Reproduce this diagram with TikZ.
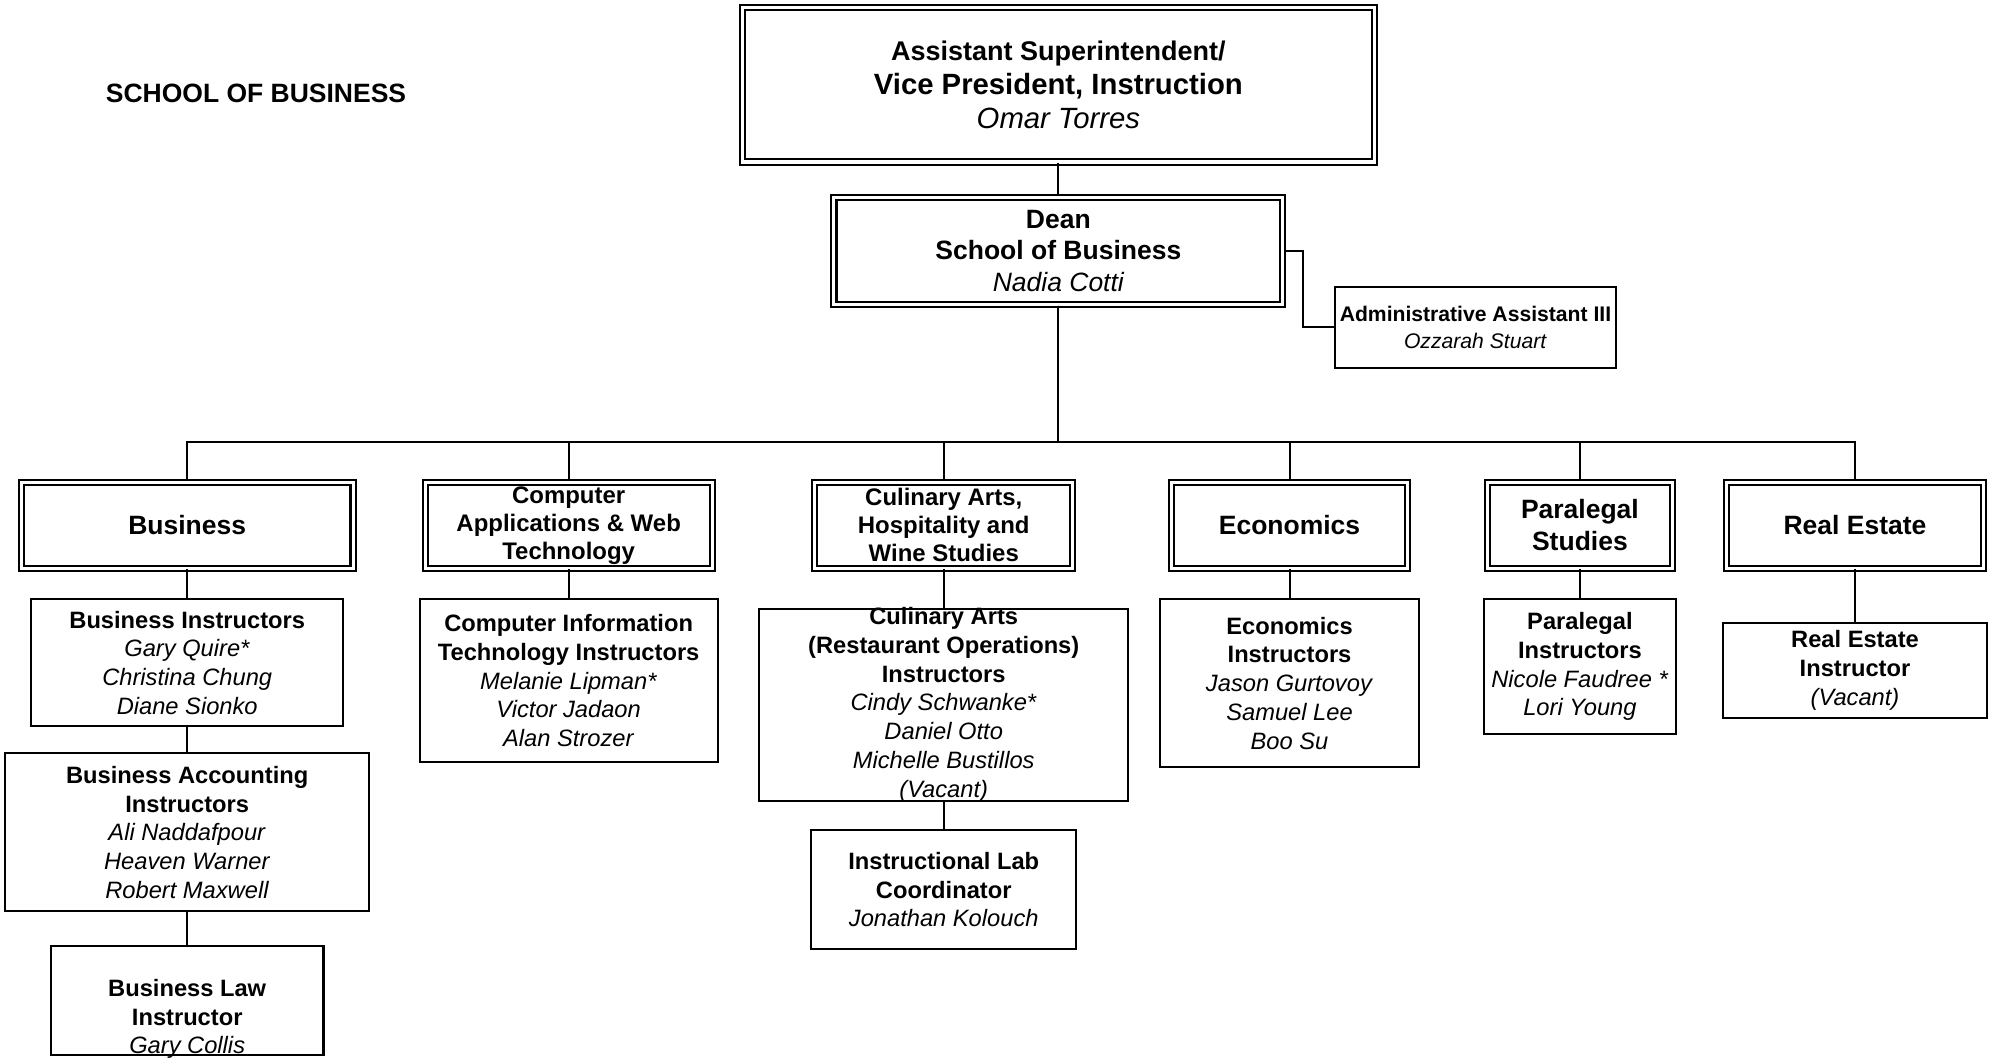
\documentclass[tikz,border=0pt]{standalone}
\usepackage{fontspec}
\setmainfont{Liberation Sans}
\usetikzlibrary{positioning}
\tikzstyle{unit} = [rectangle, draw=black, double, double distance=1.2pt, line width=0.8pt, align=center, inner sep=0pt, minimum height=33.7pt, font=\bfseries\fontsize{10.4}{12.5}\selectfont]
\tikzstyle{unitsmall} = [unit, font=\bfseries\fontsize{9.4}{11}\selectfont]
\tikzstyle{staff} = [rectangle, draw=black, line width=0.8pt, align=center, inner sep=0pt, font=\fontsize{9.3}{11.3}\selectfont]
\tikzstyle{link} = [line width=0.8pt]
\begin{document}
\begin{tikzpicture}[x=0.5pt, y=-0.5pt]
\useasboundingbox (0,0) rectangle (1568,833);

\node (title) [font=\bfseries\fontsize{10.4}{12.5}\selectfont] at (201,73) {SCHOOL OF BUSINESS};

% Top
\node (vp) [unit, minimum width=248.2pt, minimum height=60.7pt, font=\fontsize{11.5}{13.25}\selectfont] at (831,66.5) {{\fontsize{10.6}{13.25}\selectfont\bfseries Assistant Superintendent/}\\\textbf{Vice President, Instruction}\\\textit{Omar Torres}};
\node (dean) [unit, minimum width=176.2pt, minimum height=42.2pt] at (831,197) {Dean\\School of Business\\{\mdseries\itshape Nadia Cotti}};
\node (admin) [staff, minimum width=110.5pt, minimum height=32pt, font=\fontsize{8.3}{10.5}\selectfont] at (1158.5,257) {\textbf{Administrative Assistant III}\\\textit{Ozzarah Stuart}};
\coordinate (bus) at (831,347);

% Departments
\node (biz) [unit, minimum width=130.2pt] at (147,412.5) {Business};
\node (cawt) [unitsmall, minimum width=112.7pt] at (446.5,412.5) {Computer\\Applications \& Web\\Technology};
\node (cul) [unitsmall, minimum width=101.2pt] at (741,412.5) {Culinary Arts,\\Hospitality and\\Wine Studies};
\node (econ) [unit, minimum width=92.7pt] at (1012.5,412.5) {Economics};
\node (para) [unit, minimum width=72.7pt] at (1240.5,412.5) {Paralegal\\Studies};
\node (re) [unit, minimum width=100.7pt] at (1456.5,412.5) {Real Estate};

% Business
\node (bizins) [staff, below=11.3pt of biz, minimum width=122.5pt, minimum height=50pt] {\textbf{Business Instructors}\\\textit{Gary Quire*}\\\textit{Christina Chung}\\\textit{Diane Sionko}};
\node (bizacc) [staff, below=9.8pt of bizins, minimum width=143pt, minimum height=62pt] {\textbf{Business Accounting}\\\textbf{Instructors}\\\textit{Ali Naddafpour}\\\textit{Heaven Warner}\\\textit{Robert Maxwell}};
\node (bizlaw) [staff, below=12.6pt of bizacc, minimum width=107pt, minimum height=43pt, inner ysep=-1.5pt] {\rule{0pt}{21.4pt}\textbf{Business Law}\\\textbf{Instructor}\\\textit{Gary Collis}};

% Computer Applications
\node (cit) [staff, below=11.3pt of cawt, minimum width=117pt, minimum height=64pt] {\textbf{Computer Information}\\\textbf{Technology Instructors}\\\textit{Melanie Lipman*}\\\textit{Victor Jadaon}\\\textit{Alan Strozer}};

% Culinary Arts
\node (culins) [staff, below=15pt of cul, minimum width=145pt, minimum height=75.5pt, inner ysep=-1.5pt] {\textbf{Culinary Arts}\\\textbf{(Restaurant Operations)}\\\textbf{Instructors}\\\textit{Cindy Schwanke*}\\\textit{Daniel Otto}\\\textit{Michelle Bustillos}\\\textit{(Vacant)}};
\node (lab) [staff, below=10.8pt of culins, minimum width=104pt, minimum height=46.5pt] {\textbf{Instructional Lab}\\\textbf{Coordinator}\\\textit{Jonathan Kolouch}};

% Economics, Paralegal, Real Estate
\node (econins) [staff, below=11.3pt of econ, minimum width=101.5pt, minimum height=66pt] {\textbf{Economics}\\\textbf{Instructors}\\\textit{Jason Gurtovoy}\\\textit{Samuel Lee}\\\textit{Boo Su}};
\node (parains) [staff, below=11.3pt of para, minimum width=75.5pt, minimum height=53pt] {\textbf{Paralegal}\\\textbf{Instructors}\\\textit{Nicole Faudree *}\\\textit{Lori Young}};
\node (reins) [staff, below=20.8pt of re, minimum width=103.5pt, minimum height=37pt] {\textbf{Real Estate}\\\textbf{Instructor}\\\textit{(Vacant)}};

% Lines
\draw [link] (vp) -- (dean);
\draw [link] (dean.east) -- ++(7.5pt,0) |- (admin.west);
\foreach \u in {biz,cawt,cul,econ,para,re}
  \draw [link] (dean.south) |- (bus -| \u.north) -- (\u.north);
\draw [link] (biz) -- (bizins);
\draw [link] (bizins) -- (bizacc);
\draw [link] (bizacc) -- (bizlaw);
\draw [link] (cawt) -- (cit);
\draw [link] (cul) -- (culins);
\draw [link] (culins) -- (lab);
\draw [link] (econ) -- (econins);
\draw [link] (para) -- (parains);
\draw [link] (re) -- (reins);

\end{tikzpicture}
\end{document}
